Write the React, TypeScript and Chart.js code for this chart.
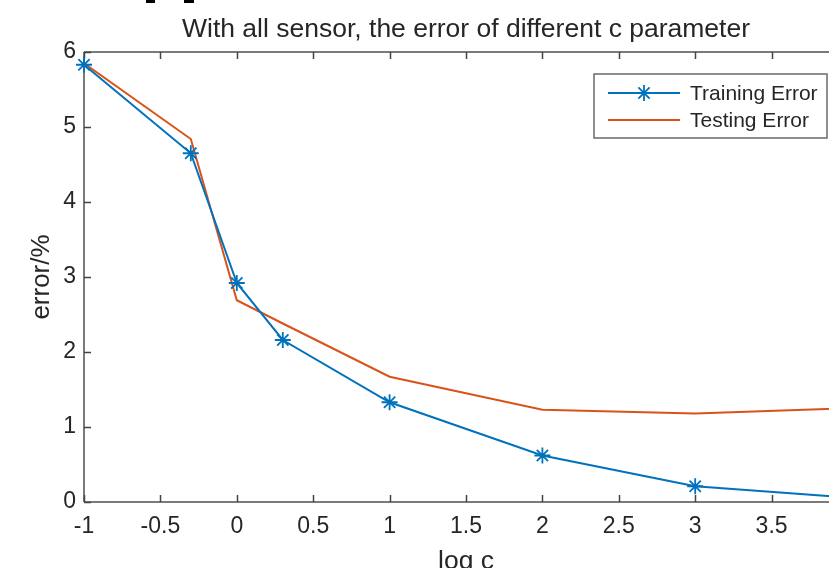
import React, { useEffect, useRef } from "react";
import { Chart, registerables } from "chart.js";

Chart.register(...registerables);

// x values are log10(c)
const logC = [-1, -0.301, 0, 0.301, 1, 2, 3, 4];
const trainingError = [5.83, 4.65, 2.92, 2.16, 1.33, 0.62, 0.21, 0.06];
const testingError = [5.85, 4.84, 2.69, 2.38, 1.67, 1.23, 1.18, 1.25];
const seriesNames = ["Training Error", "Testing Error"];
const titleText = "With all sensor, the error of different c parameter";
const xLabel = "log c";
const yLabel = "error/%";

const BLUE = "#0072BD";
const ORANGE = "#D95319";
const AXIS = "#7a7a7a";
const TEXT = "#262626";
const FONT = "'Liberation Sans', Arial, Helvetica, sans-serif";

const framePlugin = {
  id: "matlabFrame",
  beforeDatasetsDraw(chart: any) {
    const { ctx, chartArea } = chart;
    const { left, right, top, bottom } = chartArea;
    const xs = chart.scales.x;
    const ys = chart.scales.y;
    ctx.save();
    ctx.strokeStyle = AXIS;
    ctx.lineWidth = 2;
    ctx.beginPath();
    ctx.moveTo(left, top);
    ctx.lineTo(right, top);
    ctx.moveTo(left, bottom);
    ctx.lineTo(right, bottom);
    ctx.moveTo(left, top);
    ctx.lineTo(left, bottom);
    ctx.moveTo(right, top);
    ctx.lineTo(right, bottom);
    ctx.stroke();
    ctx.lineWidth = 1.5;
    ctx.strokeStyle = "#444";
    const tl = 7;
    ctx.beginPath();
    xs.ticks.forEach((t: any) => {
      const px = Math.round(xs.getPixelForValue(t.value)) + 0.5;
      ctx.moveTo(px, bottom);
      ctx.lineTo(px, bottom - tl);
      ctx.moveTo(px, top);
      ctx.lineTo(px, top + tl);
    });
    ys.ticks.forEach((t: any) => {
      const py = Math.round(ys.getPixelForValue(t.value)) + 0.5;
      ctx.moveTo(left, py);
      ctx.lineTo(left + tl, py);
      ctx.moveTo(right, py);
      ctx.lineTo(right - tl, py);
    });
    ctx.stroke();
    ctx.restore();
  },
};

const legendPlugin = {
  id: "matlabLegend",
  afterDraw(chart: any) {
    const { ctx, chartArea } = chart;
    const boxRight = chartArea.right - 21;
    const boxLeft = boxRight - 233;
    const boxTop = chartArea.top + 22;
    const boxH = 64;
    ctx.save();
    ctx.fillStyle = "#ffffff";
    ctx.fillRect(boxLeft, boxTop, boxRight - boxLeft, boxH);
    ctx.strokeStyle = "#6a6a6a";
    ctx.lineWidth = 1.5;
    ctx.strokeRect(boxLeft, boxTop, boxRight - boxLeft, boxH);
    const rows = [boxTop + 19, boxTop + 46];
    chart.data.datasets.forEach((ds: any, i: number) => {
      const y = rows[i];
      const x0 = boxLeft + 14;
      const x1 = boxLeft + 86;
      ctx.strokeStyle = ds.borderColor;
      ctx.lineWidth = 2;
      ctx.beginPath();
      ctx.moveTo(x0, y);
      ctx.lineTo(x1, y);
      ctx.stroke();
      if (ds.pointStyle === "star") {
        const cx = (x0 + x1) / 2;
        const r = ds.pointRadius;
        ctx.lineWidth = 1.8;
        ctx.beginPath();
        for (let k = 0; k < 4; k++) {
          const a = (k * Math.PI) / 4;
          ctx.moveTo(cx + r * Math.cos(a), y + r * Math.sin(a));
          ctx.lineTo(cx - r * Math.cos(a), y - r * Math.sin(a));
        }
        ctx.stroke();
      }
      ctx.fillStyle = TEXT;
      ctx.font = `21px ${FONT}`;
      ctx.textBaseline = "middle";
      ctx.textAlign = "left";
      ctx.fillText(ds.label, boxLeft + 96, y + 1);
    });
    ctx.restore();
  },
};

export default function App() {
  const ref = useRef<HTMLCanvasElement | null>(null);

  useEffect(() => {
    const canvas = ref.current;
    if (!canvas) return;
    const chart = new Chart(canvas, {
      type: "line",
      data: {
        datasets: [
          {
            label: seriesNames[0],
            data: logC.map((x, i) => ({ x, y: trainingError[i] })),
            borderColor: BLUE,
            backgroundColor: BLUE,
            borderWidth: 2,
            pointStyle: "star",
            pointRadius: 8,
            pointBorderWidth: 1.8,
            pointBorderColor: BLUE,
            pointHoverRadius: 8,
            tension: 0,
            clip: false as any,
          },
          {
            label: seriesNames[1],
            data: logC.map((x, i) => ({ x, y: testingError[i] })),
            borderColor: ORANGE,
            backgroundColor: ORANGE,
            borderWidth: 2,
            pointRadius: 0,
            tension: 0,
          },
        ],
      },
      options: {
        animation: false,
        responsive: false,
        maintainAspectRatio: false,
        devicePixelRatio: 1,
        layout: { padding: { left: 0, right: 84, top: 0, bottom: 0 } },
        plugins: {
          legend: { display: false },
          tooltip: { enabled: false },
          title: {
            display: true,
            fullSize: false,
            text: titleText,
            color: TEXT,
            font: { family: FONT, size: 26.5, weight: "normal", lineHeight: 1 },
            padding: { top: 16.75, bottom: 8.75 },
          },
        },
        scales: {
          x: {
            type: "linear",
            min: -1,
            max: 4,
            grid: { display: false, drawTicks: false },
            border: { display: false },
            afterFit: (s: any) => {
              s.height = 66;
            },
            ticks: {
              stepSize: 0.5,
              color: TEXT,
              padding: 11,
              maxRotation: 0,
              autoSkip: false,
              font: { family: FONT, size: 23 },
              callback: (v: any) => String(v),
            },
            title: {
              display: true,
              text: xLabel,
              color: TEXT,
              font: { family: FONT, size: 26.5, lineHeight: 1 },
              padding: { top: 0, bottom: -6.75 },
            },
          },
          y: {
            type: "linear",
            min: 0,
            max: 6,
            grid: { display: false, drawTicks: false },
            border: { display: false },
            afterFit: (s: any) => {
              s.width = 84;
            },
            ticks: {
              stepSize: 1,
              color: TEXT,
              padding: 8,
              font: { family: FONT, size: 23 },
              callback: (v: any) => String(v),
            },
            title: {
              display: true,
              text: yLabel,
              color: TEXT,
              font: { family: FONT, size: 26, lineHeight: 1 },
              padding: { top: 29, bottom: 0 },
            },
          },
        },
      },
      plugins: [framePlugin, legendPlugin],
    } as any);
    return () => chart.destroy();
  }, []);

  return (
    <div
      style={{
        position: "fixed",
        left: 0,
        top: 0,
        width: 829,
        height: 568,
        overflow: "hidden",
        background: "#fff",
      }}
    >
      <canvas ref={ref} width={932} height={568} style={{ display: "block" }} />
      <div style={{ position: "absolute", left: 146, top: 0, width: 9, height: 3, background: "#000" }} />
      <div style={{ position: "absolute", left: 184, top: 0, width: 10, height: 3, background: "#000" }} />
    </div>
  );
}
